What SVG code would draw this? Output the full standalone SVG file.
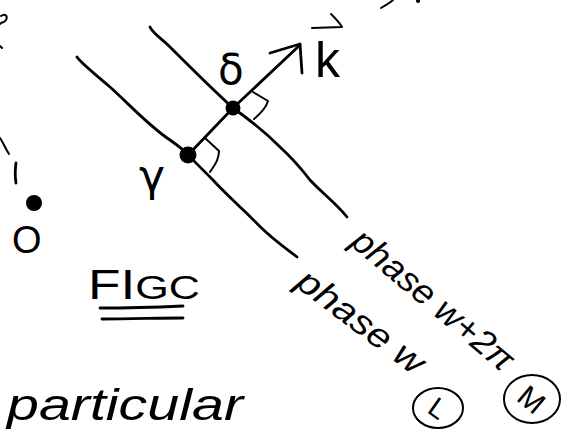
<svg xmlns="http://www.w3.org/2000/svg" width="573" height="439" viewBox="0 0 573 439">
  <style>
    .ink { fill: none; stroke: #000; stroke-width: 2.8; stroke-linecap: round; stroke-linejoin: round; }
    .thin { fill: none; stroke: #000; stroke-width: 2; stroke-linecap: round; stroke-linejoin: round; }
    .dot { fill: #000; }
    .hand { font-family: "Liberation Sans", "DejaVu Sans", sans-serif; fill: #000; }
    .greek { font-family: "DejaVu Sans", "Liberation Sans", sans-serif; fill: #000; }
  </style>
  <rect width="573" height="439" fill="#fff"/>

  <!-- fragments at the edges -->
  <g id="fragments">
    <path class="thin" d="M1,16 C5,13 8,16 6,20 C4,23 1,22 0,24"/>
    <path class="thin" d="M0,46 L2,48"/>
    <path class="thin" d="M0,138 C3,142 5,148 9,154"/>
    <path class="ink" d="M16,163 C15,170 15,177 16,183"/>
    <path class="thin" d="M381,8 C385,5 389,4 393,0"/>
    <circle class="dot" cx="418" cy="1" r="2"/>
  </g>

  <!-- connectors: wave fronts and wave vector -->
  <g id="connectors">
    <path id="front-w2pi" class="ink" d="M150,27 C152,32 158,36 168,45 C185,62 210,87 233,108 C250,120 266,133 280,147 C292,158 300,167 310,180 C322,193 336,203 347,217"/>
    <path id="front-w" class="ink" d="M77,57 C80,62 90,70 110,87 C130,105 150,127 170,140 C180,147 185,151 188,155 C198,165 205,172 213,180 C222,190 232,199 240,207 C250,216 258,225 267,233 C278,243 288,250 297,257"/>
    <path id="wave-vector" class="ink" d="M188,155 L233,108 L300,45"/>
    <path id="arrowhead" class="ink" d="M270,53 L300,44 L302,73"/>
    <path id="right-angle-delta" class="thin" d="M253,92 L268,101 C266,108 260,114 254,119"/>
    <path id="right-angle-gamma" class="thin" d="M205,138 L219,151 C219,160 214,166 210,172"/>
  </g>

  <g id="origin">
    <circle class="dot" cx="34" cy="203" r="8"/>
    <text class="hand" x="12" y="253" font-size="38">O</text>
  </g>

  <g id="point-gamma">
    <circle class="dot" cx="188" cy="155" r="8.5"/>
    <text class="greek" x="139" y="191" font-size="44">γ</text>
  </g>

  <g id="point-delta">
    <circle class="dot" cx="233" cy="108" r="7.5"/>
    <text class="greek" x="218" y="84" font-size="42">δ</text>
  </g>

  <g id="label-k">
    <text class="hand" x="315" y="77" font-size="50">k</text>
    <path class="thin" d="M312,28 L342,27 M331,14 C336,19 340,23 342,27"/>
  </g>

  <g id="label-phase-w2pi">
    <text class="hand" font-size="35" font-style="italic" text-anchor="middle" textLength="200" lengthAdjust="spacingAndGlyphs" transform="translate(432,301) rotate(40)" y="10">phase w+2π</text>
    <ellipse class="thin" cx="532" cy="399" rx="28" ry="24"/>
    <text class="hand" font-size="30" text-anchor="middle" transform="translate(532,399) rotate(40)" y="11">M</text>
  </g>

  <g id="label-phase-w">
    <text class="hand" font-size="35" font-style="italic" text-anchor="middle" textLength="150" lengthAdjust="spacingAndGlyphs" transform="translate(360,323) rotate(37)" y="10">phase w</text>
    <ellipse class="thin" cx="438" cy="408" rx="25" ry="20"/>
    <text class="hand" font-size="28" text-anchor="middle" transform="translate(438,408) rotate(35)" y="10">L</text>
  </g>

  <g id="title">
    <text class="hand" x="88" y="299" font-size="42" textLength="112" lengthAdjust="spacingAndGlyphs">FI<tspan font-size="34">GC</tspan></text>
    <path class="ink" d="M100,308 C130,308 160,307 183,306"/>
    <path class="ink" d="M102,319 C130,319 160,318 183,318"/>
  </g>

  <g id="note">
    <text class="hand" x="7" y="420" font-size="44" font-style="italic" textLength="236" lengthAdjust="spacingAndGlyphs">particular</text>
  </g>
</svg>
